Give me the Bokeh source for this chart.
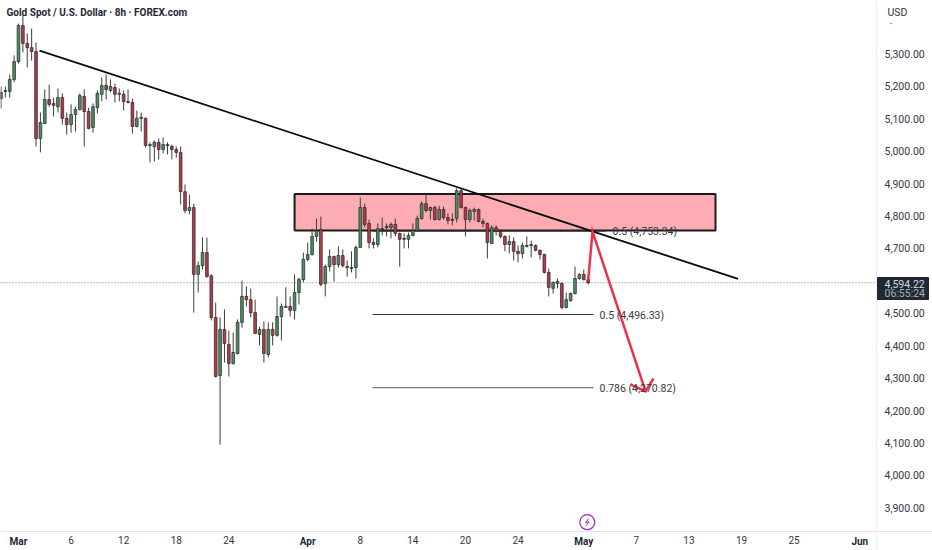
from bokeh.plotting import figure
from bokeh.models import (ColumnDataSource, FixedTicker, Label,
                          LinearAxis, Range1d, NumeralTickFormatter)
from bokeh.embed import file_html
from bokeh.resources import INLINE

title_text = "Gold Spot / U.S. Dollar · 8h · FOREX.com"

first_bar = -4
opens = [5162,5184,5184,5221,5276,5387,5332,5319,5307,5039,
 5085,5159,5147,5137,5165,5101,5082,5113,5128,5168,
 5122,5073,5134,5175,5202,5187,5196,5175,5175,5153,
 5150,5076,5101,5101,5017,5014,5027,5005,5020,5014,
 5005,4996,4875,4817,4826,4620,4647,4687,4616,4487,
 4308,4450,4404,4345,4376,4472,4552,4542,4502,4435,
 4450,4373,4450,4432,4490,4518,4521,4509,4564,4604,
 4666,4681,4737,4758,4592,4644,4675,4650,4678,4641,
 4641,4641,4703,4826,4777,4718,4712,4761,4764,4764,
 4774,4746,4728,4728,4740,4755,4792,4838,4817,4826,
 4789,4820,4795,4786,4792,4878,4826,4789,4814,4820,
 4783,4777,4715,4764,4752,4737,4712,4721,4691,4684,
 4709,4709,4709,4694,4681,4626,4577,4592,4592,4518,
 4539,4561,4607,4620,4604]
closes = [5181,5187,5221,5276,5387,5332,5319,5307,5039,5088,
 5159,5144,5141,5165,5101,5082,5113,5128,5171,5122,
 5070,5137,5178,5202,5190,5199,5175,5178,5153,5150,
 5076,5101,5104,5017,5020,5027,5005,5020,5017,5005,
 4996,4875,4817,4826,4620,4647,4687,4613,4487,4305,
 4450,4407,4345,4379,4472,4552,4542,4502,4438,4450,
 4376,4450,4432,4490,4521,4521,4509,4564,4604,4666,
 4681,4737,4755,4589,4644,4675,4650,4678,4647,4644,
 4638,4703,4826,4774,4718,4712,4761,4758,4768,4774,
 4746,4728,4731,4740,4755,4792,4838,4817,4826,4789,
 4820,4795,4786,4789,4878,4826,4789,4817,4820,4783,
 4777,4718,4764,4752,4737,4712,4721,4691,4684,4709,
 4706,4712,4694,4681,4626,4580,4595,4598,4518,4542,
 4561,4607,4620,4604,4594.22]
highs = [5199,5199,5236,5295,5393,5418,5363,5378,5335,5119,
 5190,5205,5165,5193,5178,5119,5144,5137,5178,5190,
 5134,5147,5187,5227,5236,5221,5208,5193,5187,5190,
 5162,5125,5119,5104,5027,5033,5039,5042,5027,5020,
 5014,5014,4897,4866,4838,4660,4734,4734,4620,4533,
 4487,4512,4447,4441,4481,4601,4583,4576,4542,4459,
 4475,4472,4472,4552,4530,4580,4552,4620,4610,4687,
 4718,4761,4792,4798,4650,4697,4678,4706,4697,4663,
 4691,4709,4857,4838,4789,4731,4777,4795,4777,4780,
 4792,4749,4746,4749,4777,4801,4845,4869,4829,4832,
 4832,4829,4808,4808,4885,4885,4829,4823,4826,4823,
 4792,4780,4771,4771,4758,4740,4740,4734,4709,4718,
 4737,4724,4712,4697,4684,4638,4598,4607,4595,4564,
 4564,4644,4623,4635,4610]
lows = [5131,5165,5165,5212,5270,5304,5258,5279,5014,4996,
 5085,5137,5107,5119,5082,5051,5057,5060,5125,5014,
 5067,5057,5116,5153,5159,5181,5150,5153,5125,5147,
 5054,5073,5060,5011,4965,4968,4974,4993,4990,4974,
 4980,4835,4808,4805,4502,4564,4635,4610,4478,4302,
 4095,4348,4305,4342,4373,4456,4521,4487,4435,4401,
 4348,4364,4401,4428,4416,4518,4490,4481,4527,4595,
 4660,4678,4721,4583,4552,4629,4598,4641,4641,4613,
 4626,4607,4703,4765,4700,4700,4703,4740,4737,4731,
 4737,4644,4700,4700,4737,4752,4789,4811,4789,4786,
 4786,4789,4774,4771,4780,4823,4737,4780,4786,4780,
 4765,4669,4715,4740,4731,4691,4684,4663,4657,4669,
 4703,4672,4691,4666,4623,4552,4561,4577,4512,4515,
 4536,4558,4604,4601,4589]

price_ticks = [3900,4000,4100,4200,4300,4400,4500,4700,4800,4900,5000,5100,5200,5300]
day_ticks = [12,24,36,48,78,90,102,114,141,153,165,177]
day_labels = ["6","12","18","24","8","14","20","24","7","13","19","25"]
month_ticks = [0,66,129,192]
month_labels = ["Mar","Apr","May","Jun"]

current_price = 4594.22
countdown = "06:55:24"
unit_label = "USD"

zone_bars = [63, 159.06]
zone_prices = [4868, 4755]
trend_bars = [4.79, 164.2]
trend_prices = [5310, 4606]
fib_prices = [4753.34, 4496.33, 4270.82]
fib_names = ["0.5 (4,753.34)", "0.5 (4,496.33)", "0.786 (4,270.82)"]
fib_starts = [80.8, 80.8, 80.8]
fib_ends = [134, 131.2, 131.2]
arrow_bars = [130, 131, 143.1]
arrow_prices = [4601, 4752, 4259]
head_bars = [139.8, 143.1, 144.9]
head_prices = [4280, 4259, 4299]

W, H = 932, 550
GUTTER_X, GUTTER_Y = 876, 531
BAR0_X, BAR_W = 18.0, 4.382
P0, PK = 5464.3, 3.083

def py_price(py):
    return P0 - PK*py

def px_bar(px):
    return (px - BAR0_X)/BAR_W

p = figure(width=W, height=H, output_backend="svg", toolbar_location=None,
           x_axis_location=None, y_axis_location=None,
           min_border=0, min_border_left=0, min_border_right=0, min_border_top=0, min_border_bottom=0,
           background_fill_color="white", border_fill_color="white",
           outline_line_color=None)
p.grid.visible = False
x_axis_pos = px_bar(GUTTER_X)
y_axis_pos = py_price(GUTTER_Y)
p.x_range = Range1d(px_bar(0), px_bar(W))
p.y_range = Range1d(py_price(H), P0)

ax_font = "Roboto"
ax_col = "#333842"

def make_axis(ticks, fixed, overrides=None, size="10.5px", color=ax_col, style="normal",
              standoff=8, fmt=None, line=None):
    a = LinearAxis(ticker=FixedTicker(ticks=ticks), fixed_location=fixed)
    if overrides is not None:
        a.major_label_overrides = overrides
    if fmt is not None:
        a.formatter = fmt
    a.axis_line_color = line
    a.major_tick_line_color = None
    a.minor_tick_line_color = None
    a.major_tick_out = 0
    a.major_tick_in = 0
    a.major_label_standoff = standoff
    a.major_label_text_font = ax_font
    a.major_label_text_font_size = size
    a.major_label_text_color = color
    a.major_label_text_font_style = style
    return a

money = NumeralTickFormatter(format="0,0.00")
p.add_layout(make_axis(price_ticks, x_axis_pos, fmt=money, line="#eef0f6"), "right")
p.add_layout(make_axis(day_ticks, y_axis_pos, dict(zip(day_ticks, day_labels)), size="10px",
                       standoff=4, line="#e0e3eb"), "below")
p.add_layout(make_axis(month_ticks, y_axis_pos, dict(zip(month_ticks, month_labels)), size="10px",
                       color="#232733", style="bold", standoff=4), "below")

# zone
p.quad(left=[zone_bars[0]], right=[zone_bars[1]], top=[zone_prices[0]], bottom=[zone_prices[1]],
       fill_color="#fdacb4", line_color="#1a1a1a", line_width=2)

# fib lines
for s, e, v, w, c in zip(fib_starts, fib_ends, fib_prices, [1, 1, 1.4], ["#333333", "#333333", "#777777"]):
    p.line([s, e], [v, v], line_color=c, line_width=w)

# current price dotted line
p.line([px_bar(0), x_axis_pos], [current_price, current_price], line_color="#777777",
       line_dash="1 2", line_width=1)

# candles
bars = list(range(first_bar, first_bar+len(opens)))
cols = ["#4c8f60" if c >= o else "#b33c4c" for o, c in zip(opens, closes)]
src = ColumnDataSource(dict(x=bars, o=opens, c=closes, h=highs, l=lows, col=cols))
p.segment("x", "h", "x", "l", source=src, line_color="#3c3c3c", line_width=1)
p.vbar(x="x", top="o", bottom="c", width=0.62, source=src, fill_color="col",
       line_color="#222222", line_width=0.7)

# trend
p.line(trend_bars, trend_prices, line_color="#0a0a0a", line_width=1.8)

# arrow
red = "#ee3048"
p.line(arrow_bars, arrow_prices, line_color=red, line_width=2.5, line_join="miter")
p.line(head_bars, head_prices, line_color=red, line_width=2.5, line_join="miter")

# price tag
p.quad(left=[px_bar(877)], right=[px_bar(928)], top=[py_price(277)], bottom=[py_price(299)],
       fill_color="#1f2833", line_color="#1f2833", line_width=1)

def lab(text, px, py, size, color="#333842", style="normal", align="left"):
    p.add_layout(Label(x=px, y=H-py, x_units="screen", y_units="screen", text=text,
                       text_font=ax_font, text_font_size=size, text_color=color,
                       text_font_style=style, text_align=align, text_baseline="middle"))

lab(f"{current_price:,.2f}", 884, 283, "10.5px", "#d8dbe2")
lab(countdown, 884, 292.7, "10.5px", "#aab0ba")
lab(unit_label, 887, 12, "10.5px")
lab("·", 889, 24, "11px")
lab(title_text, 6, 11.5, "10px", "#232733", "bold")

for nm, v, x in zip(fib_names, fib_prices, [612, 599, 599]):
    lab(nm, x, P0/PK-v/PK+0.6, "10.5px", "#3a3a3a")

# event marker
p.scatter([129.8], [3856], size=15, marker="circle", fill_color="white", line_color="#9c27b0", line_width=1.2)
p.line([130.1, 129.4, 130.2, 129.5], [3867, 3855, 3857, 3845], line_color="#9c27b0", line_width=1)

open("out.html", "w").write(file_html(p, INLINE))
